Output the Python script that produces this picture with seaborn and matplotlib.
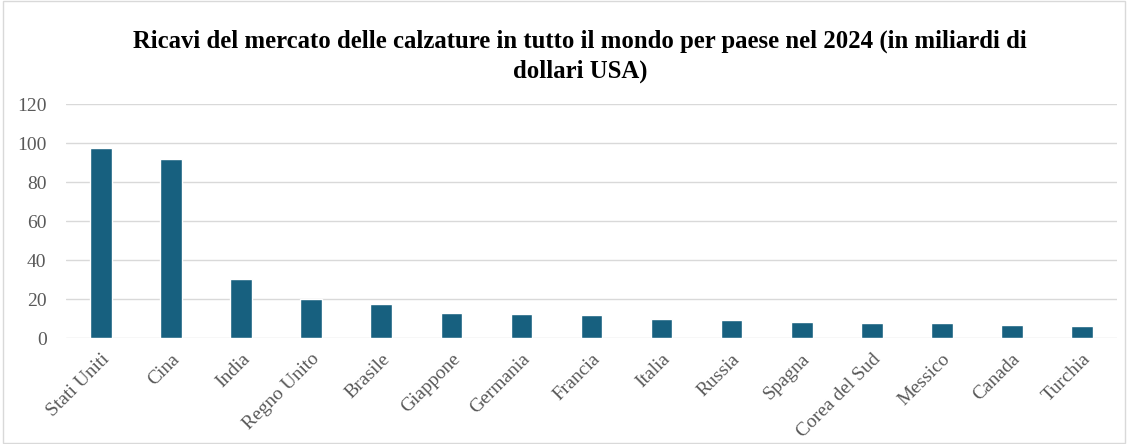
import seaborn as sns
import matplotlib.pyplot as plt
import pandas as pd

# Data
paesi = ['Stati Uniti', 'Cina', 'India', 'Regno Unito', 'Brasile', 'Giappone',
         'Germania', 'Francia', 'Italia', 'Russia', 'Spagna', 'Corea del Sud',
         'Messico', 'Canada', 'Turchia']
ricavi = [97.3, 91.6, 30.1, 20.2, 17.6, 12.9, 12.4, 11.9, 9.9, 9.2, 8.4, 7.9,
          7.9, 6.7, 6.1]
y_ticks = [0, 20, 40, 60, 80, 100, 120]

df = pd.DataFrame({'paese': paesi, 'ricavi': ricavi})

sns.set_theme(style='white')
plt.rcParams['font.family'] = ['Liberation Serif', 'DejaVu Serif']

fig = plt.figure(figsize=(11.28, 4.44), dpi=100)
ax = fig.add_axes([66 / 1128, 1 - 338 / 444, (1117 - 66) / 1128, (338 - 104) / 444])

sns.barplot(data=df, x='paese', y='ricavi', color='#17607f', width=0.31,
            saturation=1, ax=ax, zorder=3)

ax.set_ylim(0, 120)
ax.set_yticks(y_ticks)
ax.set_xlim(-0.5, len(paesi) - 0.5)
ax.grid(axis='y', color='#d9d9d9', linewidth=1, zorder=0)
for s in ax.spines.values():
    s.set_visible(False)
ax.set_xlabel('')
ax.set_ylabel('')
ax.tick_params(axis='y', labelsize=14, labelcolor='#595959', length=0, pad=14)
ax.tick_params(axis='x', labelsize=14, labelcolor='#595959', length=0, pad=9)
plt.setp(ax.get_xticklabels(), rotation=45, ha='right', rotation_mode='anchor')

fig.text(0.514, 1 - 56 / 444,
         'Ricavi del mercato delle calzature in tutto il mondo per paese nel 2024 (in miliardi di\ndollari USA)',
         ha='center', va='center', fontsize=17.8, fontweight='bold', color='black',
         linespacing=1.35)

# light border around the figure
fig.patches.append(plt.Rectangle((0.003, 0.003), 0.994, 0.994, transform=fig.transFigure,
                                 fill=False, edgecolor='#d9d9d9', linewidth=1))

fig.savefig('out.png', dpi=100)
